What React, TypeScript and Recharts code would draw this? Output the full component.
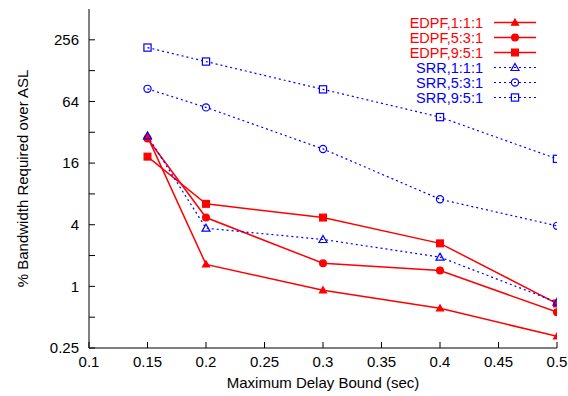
import { LineChart, Line, XAxis, YAxis } from 'recharts'

const delays = [0.15, 0.2, 0.3, 0.4, 0.5]
const edpf111 = [29, 1.64, 0.915, 0.61, 0.325]
const edpf531 = [27.8, 4.7, 1.68, 1.43, 0.56]
const edpf951 = [18.5, 6.4, 4.7, 2.63, 0.68]
const srr111 = [29.5, 3.7, 2.87, 1.93, 0.7]
const srr531 = [85, 56, 22, 7.1, 3.9]
const srr951 = [215, 157, 84, 45, 17.6]

const xTicks = [0.1, 0.15, 0.2, 0.25, 0.3, 0.35, 0.4, 0.45, 0.5]
const yTicks = [0.25, 0.5, 1, 2, 4, 8, 16, 32, 64, 128, 256]
const yLabels = [0.25, 1, 4, 16, 64, 256]

const RED = '#ff0000'
const BLUE = '#0000ff'
const FONT = '"Liberation Sans", Arial, sans-serif'
const FS = 15

const data = delays.map((d, i) => ({
  delay: d,
  edpf111: edpf111[i],
  edpf531: edpf531[i],
  edpf951: edpf951[i],
  srr111: srr111[i],
  srr531: srr531[i],
  srr951: srr951[i],
}))

type Shape = 'tri' | 'circle' | 'square'

function marker(shape: Shape, filled: boolean, color: string, cx: number, cy: number, key?: string) {
  const fill = filled ? color : 'none'
  if (shape === 'tri') {
    const s = filled ? 3.5 : 4
    return (
      <path
        key={key}
        d={`M${cx},${cy - s} L${cx + s},${cy + s * 0.75} L${cx - s},${cy + s * 0.75} Z`}
        fill={fill}
        stroke={color}
        strokeWidth={1.2}
      />
    )
  }
  if (shape === 'circle') {
    return <circle key={key} cx={cx} cy={cy} r={filled ? 3.4 : 3.6} fill={fill} stroke={color} strokeWidth={1.2} />
  }
  const h = filled ? 3.4 : 3.6
  return <rect key={key} x={cx - h} y={cy - h} width={h * 2} height={h * 2} fill={fill} stroke={color} strokeWidth={1.2} />
}

const series = [
  { key: 'edpf111', name: 'EDPF,1:1:1', color: RED, shape: 'tri' as Shape, filled: true },
  { key: 'edpf531', name: 'EDPF,5:3:1', color: RED, shape: 'circle' as Shape, filled: true },
  { key: 'edpf951', name: 'EDPF,9:5:1', color: RED, shape: 'square' as Shape, filled: true },
  { key: 'srr111', name: 'SRR,1:1:1', color: BLUE, shape: 'tri' as Shape, filled: false },
  { key: 'srr531', name: 'SRR,5:3:1', color: BLUE, shape: 'circle' as Shape, filled: false },
  { key: 'srr951', name: 'SRR,9:5:1', color: BLUE, shape: 'square' as Shape, filled: false },
]

function LegendBox() {
  return (
    <div style={{ position: 'absolute', top: 15, right: 31, fontFamily: FONT, fontSize: 14.5 }}>
      {series.map((s) => (
        <div key={s.key} style={{ display: 'flex', alignItems: 'center', justifyContent: 'flex-end', height: 15, overflow: 'hidden' }}>
          <span style={{ color: s.color, marginRight: 10, lineHeight: '14px', height: 14 }}>{s.name}</span>
          <svg width={44} height={15}>
            <line
              x1={1}
              x2={43}
              y1={7.5}
              y2={7.5}
              stroke={s.color}
              strokeWidth={s.filled ? 1.5 : 1.2}
              strokeDasharray={s.filled ? undefined : '2 3'}
            />
            {marker(s.shape, s.filled, s.color, 22, 7.5)}
          </svg>
        </div>
      ))}
    </div>
  )
}

const fmtY = (v: number) => (yLabels.includes(v) ? String(v) : '')

export default function App() {
  return (
    <div style={{ position: 'absolute', left: 0, top: 0, width: 568, height: 396, background: '#fff' }}>
      <LineChart width={568} height={396} data={data} margin={{ top: 9, right: 11, bottom: 0, left: 0 }}>
        <XAxis
          xAxisId='b'
          dataKey='delay'
          type='number'
          domain={[0.1, 0.5]}
          ticks={xTicks}
          allowDataOverflow
          height={48}
          tickSize={-6}
          tickMargin={14}
          stroke='#000'
          tick={{ fill: '#000', fontSize: FS, fontFamily: FONT }}
          label={{ value: 'Maximum Delay Bound (sec)', position: 'center', dy: 11, fill: '#000', fontSize: FS, fontFamily: FONT }}
        />
        <XAxis
          xAxisId='t'
          orientation='top'
          dataKey='delay'
          type='number'
          domain={[0.1, 0.5]}
          ticks={xTicks}
          allowDataOverflow
          height={0}
          tickSize={-6}
          tick={false}
          stroke='#000'
        />
        <YAxis
          yAxisId='l'
          scale='log'
          domain={[0.25, 512]}
          ticks={yTicks}
          allowDataOverflow
          width={89}
          tickSize={-6}
          tickMargin={16}
          tickFormatter={fmtY}
          stroke='#000'
          tick={{ fill: '#000', fontSize: FS, fontFamily: FONT }}
          label={{ value: '% Bandwidth Required over ASL', angle: -90, position: 'center', dx: -22, fill: '#000', fontSize: FS, fontFamily: FONT }}
        />
        <YAxis
          yAxisId='r'
          orientation='right'
          scale='log'
          domain={[0.25, 512]}
          ticks={yTicks}
          allowDataOverflow
          width={0}
          tickSize={-6}
          tick={false}
          stroke='#000'
        />
        {series.map((s) => (
          <Line
            key={s.key}
            xAxisId='b'
            yAxisId='l'
            dataKey={s.key}
            stroke={s.color}
            strokeWidth={s.filled ? 1.5 : 1.2}
            strokeDasharray={s.filled ? undefined : '2 3'}
            type='linear'
            isAnimationActive={false}
            dot={(p: any) => marker(s.shape, s.filled, s.color, p.cx, p.cy, `${s.key}-${p.index}`)}
            activeDot={false}
          />
        ))}
      </LineChart>
      <LegendBox />
    </div>
  )
}
